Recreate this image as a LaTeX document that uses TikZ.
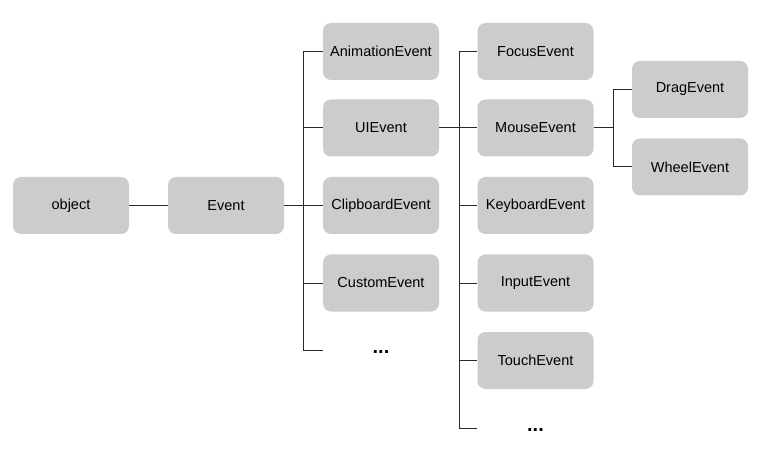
\documentclass[tikz,border=0pt]{standalone}
\usepackage{fontspec}
\setmainfont{Liberation Sans}
\usetikzlibrary{calc}
\definecolor{boxgray}{HTML}{CCCCCC}
\definecolor{linegray}{HTML}{2A2A2A}

\begin{document}
\begin{tikzpicture}[x=1pt, y=-1pt,
  event/.style={fill=boxgray, rounded corners=8pt, minimum width=116pt, minimum height=57pt, inner sep=0pt, font=\fontsize{14.5}{16}\selectfont},
  more/.style={minimum width=116pt, inner sep=0pt, text height=6pt, text depth=0pt, font=\fontsize{20}{20}\selectfont\bfseries},
  link/.style={draw=linegray, line width=1pt}]

\useasboundingbox (0,0) rectangle (780,468);

\node[event] (object) at (71,205.5) {object};
\node[event] (Event) at (226,205.5) {Event};

\node[event] (AnimationEvent) at (381,51.5) {AnimationEvent};
\node[event] (UIEvent) at (381,128) {UIEvent};
\node[event] (ClipboardEvent) at (381,205.5) {ClipboardEvent};
\node[event] (CustomEvent) at (381,283) {CustomEvent};
\node[more] (more1) at (381,350) {...};

\node[event] (FocusEvent) at (535.5,51.5) {FocusEvent};
\node[event] (MouseEvent) at (535.5,128) {MouseEvent};
\node[event] (KeyboardEvent) at (535.5,205.5) {KeyboardEvent};
\node[event] (InputEvent) at (535.5,283) {InputEvent};
\node[event] (TouchEvent) at (535.5,360.5) {TouchEvent};
\node[more] (more2) at (535.5,428) {...};

\node[event] (DragEvent) at (690,89.5) {DragEvent};
\node[event] (WheelEvent) at (690,167) {WheelEvent};

\coordinate (j1) at (303,205.5);
\coordinate (j2) at (459,128);
\coordinate (j3) at (613,128);

\draw[link] (object) -- (Event);
\draw[link] (Event) -- (j1);
\foreach \n in {AnimationEvent, UIEvent, ClipboardEvent, CustomEvent, more1}
  \draw[link] (j1) |- (\n.west);

\draw[link] (UIEvent) -- (MouseEvent);
\foreach \n in {FocusEvent, KeyboardEvent, InputEvent, TouchEvent, more2}
  \draw[link] (j2) |- (\n.west);

\draw[link] (MouseEvent) -- (j3);
\foreach \n in {DragEvent, WheelEvent}
  \draw[link] (j3) |- (\n.west);

\end{tikzpicture}
\end{document}
